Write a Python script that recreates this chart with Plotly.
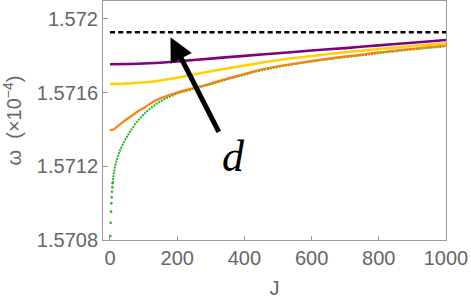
import plotly.graph_objects as go

# ---- data ----
J_purple = [0, 100, 200, 300, 400, 500, 600, 700, 800, 900, 1000]
w_purple = [1.571754, 1.571758, 1.571770, 1.571785, 1.571800, 1.571814,
            1.571829, 1.571842, 1.571857, 1.571871, 1.571886]

J_yellow = [0, 50, 100, 150, 200, 250, 300, 350, 400, 500, 600, 700, 800, 900, 1000]
w_yellow = [1.571647, 1.571649, 1.571655, 1.571666, 1.571681, 1.571699, 1.571716,
            1.571732, 1.571747, 1.571776, 1.571799, 1.571819, 1.571837, 1.571853, 1.571868]

J_orange = [0, 10, 20, 40, 60, 80, 100, 130, 160, 200, 250, 300, 350, 400, 450,
            550, 650, 750, 850, 1000]
w_orange = [1.571397, 1.571400, 1.571414, 1.571443, 1.571468, 1.571495, 1.571517,
            1.571552, 1.571576, 1.571601, 1.571625, 1.571650, 1.571677, 1.571701,
            1.571726, 1.571758, 1.571785, 1.571807, 1.571829, 1.571856]

J_green = [1, 2, 3, 4, 5, 6, 7, 8, 10, 12, 15, 20, 25, 30, 40, 50, 60, 80, 100,
           130, 160, 200, 250, 300, 350, 400, 450, 550, 650, 750, 850, 1000]
w_green = [1.570822, 1.570894, 1.570954, 1.570999, 1.571032, 1.571062, 1.571086,
           1.571108, 1.571142, 1.571169, 1.571199, 1.571234, 1.571262, 1.571286,
           1.571327, 1.571359, 1.571389, 1.571441, 1.571481, 1.571528, 1.571563,
           1.571595, 1.571621, 1.571645, 1.571673, 1.571697, 1.571721, 1.571755,
           1.571782, 1.571803, 1.571825, 1.571852]

J_limit = [0, 1000]
d_value = 1.571928

y_tickvals = [1.5708, 1.5712, 1.5716, 1.572]
y_ticktext = ["1.5708", "1.5712", "1.5716", "1.572"]
x_tickvals = [0, 200, 400, 600, 800, 1000]

arrow_head = (180, 1.571901)
arrow_tail = (326, 1.571379)
d_label_pos = (367, 1.571252)

N_DOTS = 8  # first green points shown as separate dots

# ---- figure ----
GREEN = "#22b422"
fig = go.Figure()

fig.add_trace(go.Scatter(x=J_green[:N_DOTS], y=w_green[:N_DOTS], mode="markers",
                         marker=dict(color=GREEN, size=2.6), hoverinfo="skip"))
fig.add_trace(go.Scatter(x=J_green[N_DOTS - 1:], y=w_green[N_DOTS - 1:], mode="lines",
                         line=dict(color=GREEN, width=2, dash="2px,1px", shape="spline"),
                         hoverinfo="skip"))
fig.add_trace(go.Scatter(x=J_orange, y=w_orange, mode="lines",
                         line=dict(color="#ff7f0e", width=2.2, shape="spline")))
fig.add_trace(go.Scatter(x=J_yellow, y=w_yellow, mode="lines",
                         line=dict(color="#ffd200", width=2.6, shape="spline")))
fig.add_trace(go.Scatter(x=J_purple, y=w_purple, mode="lines",
                         line=dict(color="#800080", width=2.6, shape="spline")))
fig.add_trace(go.Scatter(x=J_limit, y=[d_value, d_value], mode="lines",
                         line=dict(color="black", width=2.6, dash="5px,3.3px")))

fig.add_annotation(x=arrow_head[0], y=arrow_head[1], ax=arrow_tail[0], ay=arrow_tail[1],
                   xref="x", yref="y", axref="x", ayref="y", text="",
                   showarrow=True, arrowhead=2, arrowsize=0.95, arrowwidth=5,
                   arrowcolor="black")
fig.add_annotation(x=d_label_pos[0], y=d_label_pos[1], xref="x", yref="y",
                   text="<i>d</i>", showarrow=False,
                   font=dict(family="Liberation Serif", size=44, color="black"))

axis_color = "#9a9a9a"
label_font = dict(family="Liberation Sans, Arial", size=20, color="#666666")

fig.update_xaxes(range=[-20.8, 1000], tickvals=x_tickvals, ticks="inside", ticklen=4,
                 tickcolor=axis_color, showline=True, linecolor=axis_color, linewidth=1,
                 mirror=True, showgrid=False, zeroline=False, tickfont=label_font,
                 automargin=False,
                 title=dict(text="J", font=label_font, standoff=12))
fig.update_yaxes(range=[1.5708, 1.5720977], tickvals=y_tickvals, ticktext=y_ticktext,
                 ticks="inside", ticklen=5, tickcolor=axis_color, showline=True,
                 linecolor=axis_color, linewidth=1, mirror=True, showgrid=False,
                 zeroline=False, tickfont=label_font, automargin=False,
                 title=dict(text="ω  (×10<sup>−4</sup>)", font=label_font, standoff=12))

fig.update_layout(width=471, height=301, margin=dict(l=103, r=25, t=1, b=61),
                  paper_bgcolor="white", plot_bgcolor="white", showlegend=False)

fig.write_html("out.html", config={"displayModeBar": False},
               post_script="document.body.style.margin='0';document.body.style.padding='0';")
